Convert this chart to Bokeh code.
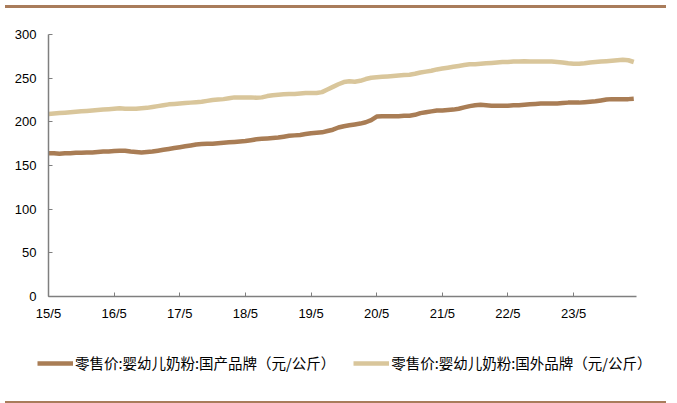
from bokeh.plotting import figure
from bokeh.models import Range1d, Legend, LegendItem, FixedTicker, Div, ColumnDataSource
from bokeh.layouts import column
from bokeh.embed import file_html
from bokeh.resources import INLINE

# Monthly observations, May 2015 .. Apr 2024 (index 0 = 2015-05)
domestic = [
    164, 164, 163.5, 164, 164, 164.5,
    164.5, 165, 165, 165.5, 166, 166,
    166.5, 167, 167, 166, 165.5, 165,
    165.5, 166, 167, 168, 169, 170,
    171, 172, 173, 174, 174.5, 175,
    175, 175.5, 176, 176.5, 177, 177.5,
    178, 179, 180, 180.5, 181, 181.5,
    182, 183, 184, 184.5, 185, 186,
    187, 187.5, 188, 189.5, 191, 193.5,
    195, 196, 197, 198, 199.5, 202,
    206, 206.5, 206.5, 206.5, 206.5, 207,
    207, 208, 210, 211, 212, 213,
    213, 213.5, 214, 215, 216.5, 218,
    219, 219.5, 219, 218.5, 218.5, 218.5,
    218.5, 219, 219, 219.5, 220, 220.5,
    221, 221, 221, 221, 221.5, 222,
    222, 222, 222.5, 223, 223.5, 224.5,
    225.5, 226, 226, 226, 226, 226.5,
]
foreign = [
    209, 209.5, 210, 210.5, 211, 211.5,
    212, 212.5, 213, 213.5, 214, 214.5,
    215, 215.5, 215, 215, 215, 215.5,
    216, 217, 218, 219, 220, 220.5,
    221, 221.5, 222, 222.5, 223, 224,
    225, 225.5, 226, 227, 228, 228,
    228, 228, 227.5, 228, 229.5, 230.5,
    231, 231.5, 232, 232, 232.5, 233,
    233, 233, 234, 237, 240, 243,
    245.5, 246.5, 246, 247, 249, 250.5,
    251, 251.5, 252, 252.5, 253, 253.5,
    254, 255, 256.5, 257.5, 258.5, 260,
    261, 262, 263, 264, 265, 266,
    266, 266.5, 267, 267.5, 268, 268.5,
    268.5, 269, 269, 269.5, 269, 269,
    269, 269, 269, 268.5, 268, 267,
    266.5, 266.5, 267, 268, 268.5, 269,
    269.5, 270, 270.5, 271, 270.5, 268.5,
]
tick_labels = ["15/5", "16/5", "17/5", "18/5", "19/5", "20/5", "21/5", "22/5", "23/5"]
y_ticks = [0, 50, 100, 150, 200, 250, 300]
series_names = ["零售价:婴幼儿奶粉:国产品牌（元/公斤）", "零售价:婴幼儿奶粉:国外品牌（元/公斤）"]

month_idx = list(range(len(domestic)))
tick_pos = [12 * i for i in range(len(tick_labels))]

DARK = "#A97D55"
LIGHT = "#D9C69B"
RULE = "#A97C5B"

src = ColumnDataSource(dict(x=month_idx, d=domestic, f=foreign))

p = figure(width=661, height=313, output_backend="svg", toolbar_location=None,
           x_range=Range1d(0, 107.5), y_range=Range1d(0, 300),
           min_border_left=48, min_border_right=25, min_border_top=21, min_border_bottom=30)
p.outline_line_color = None
p.xgrid.visible = False
p.ygrid.visible = False

p.line("x", "d", source=src, line_color=DARK, line_width=4.5)
p.line("x", "f", source=src, line_color=LIGHT, line_width=4.5)

for ax in (p.xaxis[0], p.yaxis[0]):
    ax.axis_line_color = "#7f7f7f"
    ax.axis_line_width = 1.5
    ax.major_tick_line_color = "#7f7f7f"
    ax.major_tick_in = 4
    ax.major_tick_out = 0
    ax.minor_tick_line_color = None
    ax.major_label_text_font = "Liberation Sans"
    ax.major_label_text_font_size = "13px"
    ax.major_label_text_color = "#000000"

p.xaxis.ticker = FixedTicker(ticks=tick_pos)
p.xaxis.major_label_overrides = {pos: lab for pos, lab in zip(tick_pos, tick_labels)}
p.xaxis.major_label_standoff = 9
p.yaxis.ticker = FixedTicker(ticks=y_ticks)
p.yaxis.major_label_standoff = 12

# Legend strip: a separate canvas so the legend can start left of the plot frame.
# Its proxy lines use the same series but lie outside this strip's visible ranges.
lf = figure(width=661, height=70, output_backend="svg", toolbar_location=None,
            x_range=Range1d(0, 1), y_range=Range1d(0, 1),
            x_axis_location=None, y_axis_location=None,
            min_border=0, min_border_left=0, min_border_right=0,
            min_border_top=0, min_border_bottom=0, outline_line_color=None)
lf.grid.visible = False
lr1 = lf.line("x", "d", source=src, line_color=DARK, line_width=4.5)
lr2 = lf.line("x", "f", source=src, line_color=LIGHT, line_width=4.5)
legend = Legend(items=[LegendItem(label=series_names[0], renderers=[lr1]),
                       LegendItem(label=series_names[1], renderers=[lr2])],
                orientation="horizontal", location=(37, 23),
                glyph_width=36, glyph_height=14, label_standoff=2, spacing=18,
                padding=0, margin=0, border_line_color=None, background_fill_alpha=0,
                label_text_font="Noto Sans CJK SC", label_text_font_size="14.5px",
                label_text_color="#000000")
lf.add_layout(legend, "center")

top_rule = Div(width=661, height=3, styles={"background-color": RULE})
bottom_rule = Div(width=661, height=3, styles={"background-color": RULE})

layout = column(top_rule, column(p), column(lf), bottom_rule, spacing=0)

open("out.html", "w").write(file_html(layout, INLINE))
